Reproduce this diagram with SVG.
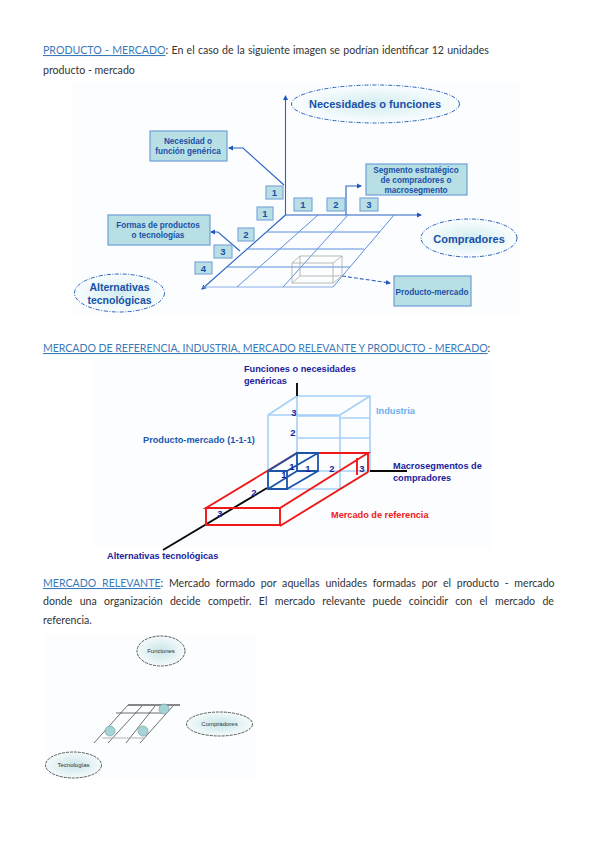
<svg xmlns="http://www.w3.org/2000/svg" width="600" height="848" viewBox="0 0 600 848">
<style>
.b{font-family:"Lato","Noto Sans","Liberation Sans",sans-serif;font-size:10.6px;fill:#333}
.l{fill:#3b7ab8;text-decoration:underline}
.bg{fill:#fbfdfe}
.ax{fill:none;stroke:#2a62c0;stroke-width:1.1}
.gr{fill:none;stroke:#5c8fdc;stroke-width:1}
.g1{fill:none;stroke:#8ab0e8;stroke-width:1}
.bx{fill:#b8dfe3;stroke:#6f9fd8;stroke-width:1.2}
.nb{fill:#b8dfe3;stroke:#7fa8dc;stroke-width:1.2}
.t{font-family:"Liberation Sans",Arial,sans-serif;font-weight:bold;fill:#1850a8;text-anchor:middle}
.s{font-size:8.2px}
.n{font-size:9.5px}
.el{fill:url(#eg);stroke:#2a62c0;stroke-width:1;stroke-dasharray:4 1.5 1 1.5}
.q{font-family:"Liberation Sans",Arial,sans-serif;font-weight:bold;font-size:9.2px;fill:#1c1c9c}
.lb{fill:none;stroke:#a6d0f6;stroke-width:1.6}
.rd{fill:none;stroke:#f01818;stroke-width:1.9}
.db{fill:none;stroke:#1c55a8;stroke-width:1.8}
.k{fill:none;stroke:#0a0a0a;stroke-width:1.9}
.m{font-family:"Liberation Sans",Arial,sans-serif;font-weight:bold;font-size:9.5px;fill:#1c1c9c;text-anchor:middle}
.e3{fill:url(#eg3);stroke:#333;stroke-width:.8;stroke-dasharray:3 1}
.t3{font-family:"Liberation Sans",Arial,sans-serif;font-size:6px;fill:#333;text-anchor:middle}
.g3{fill:none;stroke:#333;stroke-width:.7}
</style>
<defs>
<radialGradient id="eg"><stop offset="0" stop-color="#d2ecef"/><stop offset="1" stop-color="#fbfeff"/></radialGradient>
<radialGradient id="eg3"><stop offset="0" stop-color="#c9e5e8"/><stop offset="1" stop-color="#f4fafb"/></radialGradient>
<marker id="a" markerWidth="6" markerHeight="6" refX="4" refY="3" orient="auto" markerUnits="userSpaceOnUse"><path d="M0 0.5L5 3L0 5.5Z" fill="#2256b8"/></marker>
</defs>
<rect width="600" height="848" fill="#fff"/>

<g id="texts">
<text class="b" x="43" y="54" style="word-spacing:.55px"><tspan class="l">PRODUCTO - MERCADO</tspan>: En el caso de la siguiente imagen se podrían identificar 12 unidades</text>
<text class="b" x="43" y="74">producto - mercado</text>
<text class="b" x="43" y="352" style="letter-spacing:-.06px"><tspan class="l">MERCADO DE REFERENCIA, INDUSTRIA, MERCADO RELEVANTE Y PRODUCTO - MERCADO</tspan>:</text>
<text class="b" x="43" y="587" style="word-spacing:3px"><tspan class="l">MERCADO RELEVANTE</tspan>: Mercado formado por aquellas unidades formadas por el producto - mercado</text>
<text class="b" x="43" y="605" style="word-spacing:4.6px">donde una organización decide competir. El mercado relevante puede coincidir con el mercado de</text>
<text class="b" x="43" y="624">referencia.</text>
</g>

<rect class="bg" x="73" y="82" width="447" height="234"/>
<g id="connectors-1">
<path class="ax" d="M285.500 215V96" marker-end="url(#a)"/>
<path class="ax" d="M285.500 215H421" stroke="#8ab0e8" marker-end="url(#a)"/>
<path class="ax" d="M285.500 215L202 289" marker-end="url(#a)"/>
<path class="g1" d="M202 287H333"/>
<path class="gr" d="M266 232H380M246 249H364M226 267H350"/>
<path class="gr" d="M318 215L237 287M348 215L283 287M394 215L333 287"/>
<path class="ax" d="M284 185L243 148H229" stroke-width=".8" marker-end="url(#a)"/>
<path class="ax" d="M240 251L218 232H211" stroke-width=".8" marker-end="url(#a)"/>
<path class="ax" d="M346 215V186H361" marker-end="url(#a)"/>
<path class="ax" d="M342 276L390 283" stroke-dasharray="4 2" marker-end="url(#a)"/>
<path fill="none" stroke="#aaa" stroke-width=".8" d="M292 263H333V283H292ZM292 263L300 256H342L333 263M342 256V276L333 283M300 256V276L292 283M300 276H342"/>
</g>
<g id="n-necesidad"><rect class="bx" x="150" y="131" width="77" height="30"/><text class="t s" x="188" y="144">Necesidad o</text><text class="t s" x="188" y="154">función genérica</text></g>
<g id="n-formas"><rect class="bx" x="108" y="215" width="102" height="30"/><text class="t s" x="158" y="228">Formas de productos</text><text class="t s" x="158" y="238">o tecnologías</text></g>
<g id="n-segmento"><rect class="bx" x="366" y="164" width="101" height="31"/><text class="t s" x="416" y="173">Segmento estratégico</text><text class="t s" x="416" y="183">de compradores o</text><text class="t s" x="416" y="193">macrosegmento</text></g>
<g id="n-pm"><rect class="bx" x="394" y="276" width="77" height="30"/><text class="t s" x="432" y="295">Producto-mercado</text></g>
<g id="n-v1a"><rect class="nb" x="266" y="186" width="17" height="13"/><text class="t n" x="274.500" y="196">1</text></g>
<g id="n-v1b"><rect class="nb" x="257" y="207" width="16" height="13"/><text class="t n" x="265" y="217">1</text></g>
<g id="n-v2"><rect class="nb" x="238" y="228" width="16" height="13"/><text class="t n" x="246" y="238">2</text></g>
<g id="n-v3"><rect class="nb" x="214" y="245" width="18" height="13"/><text class="t n" x="223" y="255">3</text></g>
<g id="n-v4"><rect class="nb" x="195" y="262" width="17" height="12"/><text class="t n" x="203.500" y="272">4</text></g>
<g id="n-h1"><rect class="nb" x="294" y="198" width="18" height="13"/><text class="t n" x="303" y="208">1</text></g>
<g id="n-h2"><rect class="nb" x="327" y="198" width="18" height="13"/><text class="t n" x="336" y="208">2</text></g>
<g id="n-h3"><rect class="nb" x="360" y="198" width="18" height="13"/><text class="t n" x="369" y="208">3</text></g>
<g id="e-necesidades"><ellipse class="el" cx="375.500" cy="104" rx="84" ry="19"/><text class="t" font-size="11" x="375" y="108">Necesidades o funciones</text></g>
<g id="e-compradores"><ellipse class="el" cx="469" cy="238" rx="48" ry="19"/><text class="t" font-size="11" x="469" y="243">Compradores</text></g>
<g id="e-alternativas"><ellipse class="el" cx="119.500" cy="293" rx="45" ry="19"/><text class="t" font-size="10.500" x="119.500" y="291">Alternativas</text><text class="t" font-size="10.500" x="119.500" y="304">tecnológicas</text></g>

<rect class="bg" x="93" y="360" width="399" height="188"/>
<g id="connectors-2">
<path class="lb" d="M297 396H370V471H297ZM268 415H340V489H268ZM297 396L268 415M370 396L340 415M370 471L340 489M297 416H340M297 438H370M340 418H370"/>
<path class="k" d="M297 383V396M163 550L267 488M370 471H407"/>
<path class="rd" d="M297 453H368L280 508H206ZM206 507V525H280V508M280 526L368 472M368 453V472M357 458V475"/>
<path class="db" d="M268 471H287V489H268ZM297 453H318V471H297ZM268 471L297 453M287 471L318 453M287 489L318 471M268 489L297 471"/>
</g>
<g id="labels-2">
<text class="q" x="244" y="372">Funciones o necesidades</text>
<text class="q" x="244" y="384">genéricas</text>
<text class="q" x="143" y="443" style="fill:#1c58b0">Producto-mercado (1-1-1)</text>
<text class="q" x="376" y="414" style="fill:#6cb0f0">Industria</text>
<text class="q" x="393" y="469">Macrosegmentos de</text>
<text class="q" x="393" y="481">compradores</text>
<text class="q" x="331" y="518" style="fill:#ee2020">Mercado de referencia</text>
<text class="q" x="107" y="559">Alternativas tecnológicas</text>
<text class="m" x="294" y="416">3</text><text class="m" x="293" y="436">2</text>
<text class="m" x="292" y="470">1</text><text class="m" x="284" y="478">1</text><text class="m" x="308" y="472">1</text>
<text class="m" x="332" y="472">2</text><text class="m" x="362" y="472">3</text><text class="m" x="254" y="496">2</text><text class="m" x="220" y="517">3</text>
</g>

<rect class="bg" x="45" y="635" width="210" height="145"/>
<g id="connectors-3">
<path class="g3" d="M116 713H165M128 705L94 743M142 706L108 743M155 706L126 743M173 706L140 743"/>
<path fill="none" stroke="#aaa" stroke-width=".9" d="M102 738H145"/>
<path fill="none" stroke="#111" stroke-width="1" d="M128 705H180"/>
</g>
<g id="c1"><circle cx="164" cy="709" r="5" fill="#a6d3d8" stroke="#6a9a9e" stroke-width=".6"/></g>
<g id="c2"><circle cx="110" cy="731" r="5" fill="#a6d3d8" stroke="#6a9a9e" stroke-width=".6"/></g>
<g id="c3"><circle cx="143" cy="731" r="5" fill="#a6d3d8" stroke="#6a9a9e" stroke-width=".6"/></g>
<g id="e-funciones"><ellipse class="e3" cx="161" cy="651" rx="24" ry="15"/><text class="t3" x="161" y="653">Funciones</text></g>
<g id="e-compradores3"><ellipse class="e3" cx="219.500" cy="724" rx="33" ry="12"/><text class="t3" x="219.500" y="726">Compradores</text></g>
<g id="e-tecnologias"><ellipse class="e3" cx="73.500" cy="765" rx="28" ry="13"/><text class="t3" x="73.500" y="767">Tecnologías</text></g>
</svg>
